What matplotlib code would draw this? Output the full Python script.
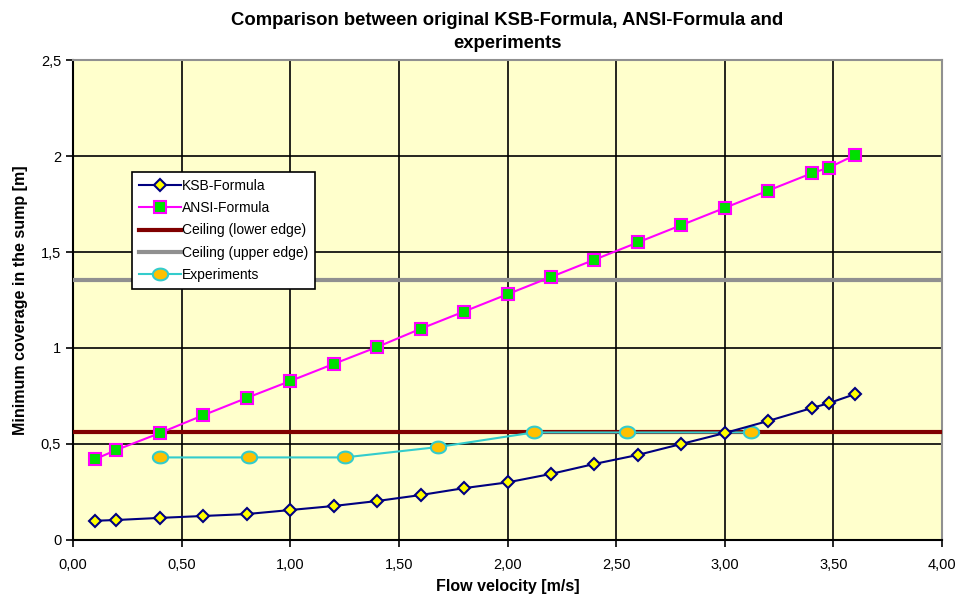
import numpy as np
import matplotlib
matplotlib.use("Agg")
import matplotlib.pyplot as plt
from matplotlib.ticker import FuncFormatter

plt.rcParams['font.family'] = ['Liberation Sans', 'DejaVu Sans']

# values
ksb_x = [0.1, 0.2, 0.4, 0.6, 0.8, 1.0, 1.2, 1.4, 1.6, 1.8, 2.0, 2.2, 2.4, 2.6, 2.8, 3.0, 3.2, 3.4, 3.48, 3.6]
ksb_y = [0.10, 0.104, 0.115, 0.125, 0.135, 0.156, 0.177, 0.203, 0.234, 0.27, 0.30, 0.344, 0.396, 0.443,
         0.50, 0.557, 0.62, 0.687, 0.713, 0.76]
ansi_x = ksb_x
ansi_y = [0.42, 0.469, 0.557, 0.65, 0.74, 0.828, 0.917, 1.005, 1.10, 1.19, 1.28, 1.37, 1.46, 1.55,
          1.64, 1.73, 1.82, 1.91, 1.94, 2.005]
ceiling_lower = 0.56
ceiling_upper = 1.355
exp_x = [0.40, 0.81, 1.25, 1.68, 2.12, 2.55, 3.12]
exp_y = [0.43, 0.43, 0.43, 0.484, 0.56, 0.56, 0.56]

x_ticks = [0, 0.5, 1, 1.5, 2, 2.5, 3, 3.5, 4]
y_ticks = [0, 0.5, 1, 1.5, 2, 2.5]

# wide ellipse marker for the experiments
t = np.linspace(0, 2 * np.pi, 40)
ellipse = np.column_stack([1.3 * np.cos(t), np.sin(t)])

fig = plt.figure(figsize=(9.59, 6.10), dpi=100)
ax = fig.add_axes([0.0761, 0.1148, 0.9062, 0.7868])
ax.set_facecolor('#FFFFCC')

ax.plot(ksb_x, ksb_y, color='#000080', lw=1.5, marker='D', ms=6,
        mfc='#FFFF00', mec='#000080', mew=1.5, label='KSB-Formula', zorder=5)
ax.plot(ansi_x, ansi_y, color='#FF00FF', lw=1.5, marker='s', ms=8,
        mfc='#00E000', mec='#FF00FF', mew=1.5, label='ANSI-Formula', zorder=5)
ax.axhline(ceiling_lower, color='#800000', lw=3, label='Ceiling (lower edge)', zorder=3)
ax.axhline(ceiling_upper, color='#909090', lw=3, label='Ceiling (upper edge)', zorder=3)
ax.plot(exp_x, exp_y, color='#33CCCC', lw=1.5, marker=ellipse, ms=11,
        mfc='#FFC000', mec='#33CCCC', mew=1.5, label='Experiments', zorder=4)

ax.set_xlim(0, 4)
ax.set_ylim(0, 2.5)
ax.set_xticks(x_ticks)
ax.set_yticks(y_ticks)
ax.xaxis.set_major_formatter(FuncFormatter(lambda v, p: f'{v:.2f}'.replace('.', ',')))
ax.yaxis.set_major_formatter(FuncFormatter(lambda v, p: f'{v:g}'.replace('.', ',')))
ax.tick_params(axis='both', direction='out', length=5, width=1.2, labelsize=10.5, colors='black')
ax.tick_params(axis='x', pad=8)
ax.grid(True, color='black', lw=1.2, zorder=1)
ax.set_axisbelow(True)

for side in ['left', 'bottom']:
    ax.spines[side].set_color('black')
    ax.spines[side].set_linewidth(1.5)
for side in ['top', 'right']:
    ax.spines[side].set_color('#909090')
    ax.spines[side].set_linewidth(1.5)

ax.set_xlabel('Flow velocity [m/s]', fontsize=11.5, fontweight='bold', labelpad=5)
ax.set_ylabel('Minimum coverage in the sump [m]', fontsize=11.5, fontweight='bold', labelpad=9)
ax.set_title('Comparison between original KSB-Formula, ANSI-Formula and\nexperiments',
             fontsize=13.3, fontweight='bold', pad=9, linespacing=1.4)

leg = ax.legend(loc='upper left', bbox_to_anchor=(0.068, 0.767), fontsize=10,
                frameon=True, fancybox=False, framealpha=1, edgecolor='black',
                borderaxespad=0, handlelength=3.0, handletextpad=0.1,
                labelspacing=0.6, borderpad=0.5)
leg.get_frame().set_linewidth(1.2)

fig.savefig('out.png', dpi=100, facecolor='white')
